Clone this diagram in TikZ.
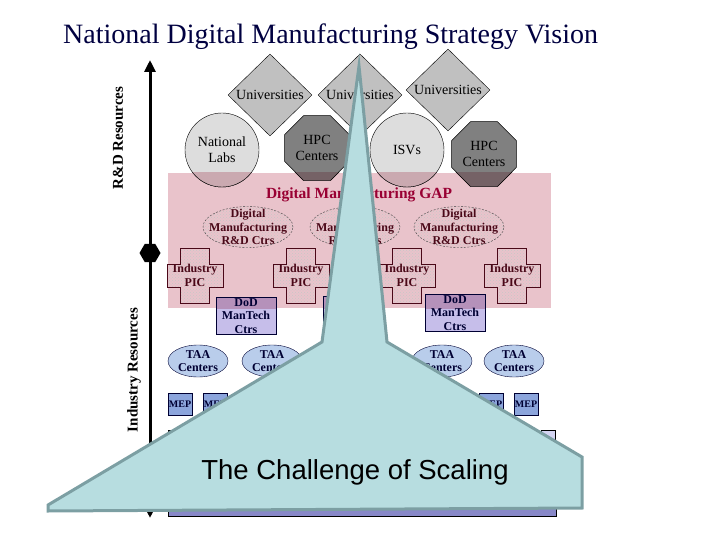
\documentclass[tikz,border=0pt]{standalone}
\usepackage{fontspec}
\setmainfont{Liberation Serif}
\newfontfamily\scalefont{Liberation Sans}
\usepackage{xcolor}
\usepackage{tikz}
\usetikzlibrary{shapes.geometric, arrows.meta, patterns}

\definecolor{titlenavy}{HTML}{000040}
\definecolor{unigray}{HTML}{C0C0C0}
\definecolor{labgray}{HTML}{DDDDDD}
\definecolor{labmix}{HTML}{CAA9B0}
\definecolor{hpcgray}{HTML}{808080}
\definecolor{hpcmix}{HTML}{756266}
\definecolor{gappink}{HTML}{E9C3CB}
\definecolor{gapred}{HTML}{990033}
\definecolor{darkmaroon}{HTML}{4A0818}
\definecolor{navy}{HTML}{000033}
\definecolor{dodlav}{HTML}{C6BEEA}
\definecolor{dodmix}{HTML}{B591BA}
\definecolor{taablue}{HTML}{B9CDEB}
\definecolor{mepblue}{HTML}{8CA5DC}
\definecolor{tierlav}{HTML}{D4D4F2}
\definecolor{tierblue}{HTML}{8888C8}
\definecolor{scaleteal}{HTML}{B7DDE0}
\definecolor{scaleedge}{HTML}{7C9FA3}

\begin{document}
\begin{tikzpicture}[x=1pt, y=-1pt,
    every node/.style={align=center, inner sep=0pt},
    lbl/.style={font=\fontsize{14}{16}\selectfont},
    blbl/.style={font=\bfseries\fontsize{12}{13.5}\selectfont},
    uni/.style={lbl, diamond, draw, fill=unigray, minimum width=84pt, minimum height=82pt},
    lab/.style={lbl, circle, draw, fill=labgray, minimum size=74pt},
    hpc/.style={lbl, regular polygon, regular polygon sides=8, draw, fill=hpcgray, minimum size=70pt},
    dmc/.style={ellipse, draw=black!75, dash pattern=on 2pt off 1.5pt, pattern=crosshatch dots, pattern color=black!22, minimum width=90pt, minimum height=41pt},
    dmtxt/.style={blbl, text=darkmaroon},
    crossline/.style={draw=darkmaroon, pattern=crosshatch dots, pattern color=black!22},
    dod/.style={draw=navy, fill=dodlav, minimum width=60pt, minimum height=37pt},
    taa/.style={ellipse, draw=navy, fill=taablue, minimum width=60pt, minimum height=32pt},
    bluetxt/.style={blbl, text=navy},
    mep/.style={font=\bfseries\fontsize{10}{11}\selectfont, draw=navy, fill=mepblue, minimum width=24pt, minimum height=22pt, text=navy},
    side/.style={rotate=90, font=\bfseries\fontsize{15}{17}\selectfont},
    axis/.style={line width=3pt, -{Triangle[width=11pt, length=12pt]}}]
\useasboundingbox (0,0) rectangle (720,540);

\fill[gappink] (168,173) rectangle (551,308);

\node[uni] (u1) at (270,95) {Universities};
\node[uni] (u2) at (360,95) {Universities};
\node[uni] (u3) at (448,90) {Universities};
\node[lab] (nl)  at (222,150) {National\\Labs};
\node[lab] (isv) at (407,150) {ISVs};
\node[hpc] (hpc1) at (317,148) {HPC\\Centers};
\node[hpc] (hpc2) at (484,154) {HPC\\Centers};

\foreach \n/\x/\y in {1/246/316, 2/353/315, 3/455/313}
  \node[dod] (dod\n) at (\x,\y) {};

% the GAP band darkens what lies under it
\begin{scope}
  \clip (168,173) rectangle (551,308);
  \filldraw[fill=labmix] (nl.center) circle[radius=37pt] (isv.center) circle[radius=37pt];
  \foreach \h in {hpc1, hpc2}
    \filldraw[fill=hpcmix] (\h.corner 1) -- (\h.corner 2) -- (\h.corner 3) -- (\h.corner 4)
      -- (\h.corner 5) -- (\h.corner 6) -- (\h.corner 7) -- (\h.corner 8) -- cycle;
  \foreach \n in {1,2,3}
    \filldraw[draw=navy, fill=dodmix] (dod\n.south west) rectangle (dod\n.north east);
\end{scope}

\foreach \n in {1,2,3}
  \node[bluetxt] (dodt\n) at (dod\n) {DoD\\ManTech\\Ctrs};

\node[text=gapred, font=\bfseries\fontsize{15.5}{18}\selectfont] (gap) at (359,195) {Digital Manufacturing GAP};

\foreach \n/\x in {1/248, 2/355, 3/459}
  \node[dmc, label={[dmtxt]center:Digital\\Manufacturing\\R\&D Ctrs}] (dm\n) at (\x,227) {};

\foreach \n/\x in {1/195, 2/301, 3/407, 4/512} {
  \path[crossline] (\x-14.5,248) -| (\x+14.5,264) -| (\x+28,287) -| (\x+14.5,303)
      -| (\x-14.5,287) -| (\x-28,264) -| (\x-14.5,248) -- cycle;
  \node[dmtxt] (pic\n) at (\x,275.5) {Industry\\PIC};
}

\foreach \n/\x in {1/198, 2/272, 3/442, 4/514}
  \node[taa, label={[bluetxt]center:TAA\\Centers}] (taa\n) at (\x,361) {};

\foreach \n/\x in {1/180, 2/215, 3/491, 4/526}
  \node[mep] (mep\n) at (\x,404) {MEP};

\node[draw, fill=tierlav, minimum width=14pt, minimum height=30pt, anchor=north west] (co1) at (168,430) {};
\node[draw, fill=tierlav, minimum width=14pt, minimum height=30pt, anchor=north west] (co2) at (541,430) {};
\node[draw, fill=tierblue, minimum width=388pt, minimum height=20pt, anchor=south west] (base) at (168,516) {};

\node[regular polygon, regular polygon sides=6, fill=black, minimum size=21pt] (hub) at (150,253) {};
\coordinate (axtop) at (150,60);
\coordinate (axbot) at (150,518);
\draw[axis] (hub) -- (axtop);
\draw[axis] (hub) -- (axbot);
\node[side] (rd)  at (118,138) {R\&D Resources};
\node[side] (ind) at (134,370) {Industry Resources};

\draw[scaleedge, line width=3pt, fill=scaleteal] (48,505) -- (322,342) -- (359,66) -- (387,342)
    -- (582,457) -- (582,508) -- (48,511) -- cycle;
\node[font=\scalefont\fontsize{27.5}{30}\selectfont] (scaling) at (355,472) {The Challenge of Scaling};

\node[anchor=base west, text=titlenavy, font=\fontsize{28}{32}\selectfont] (title) at (63,44)
    {National Digital Manufacturing Strategy Vision};
\end{tikzpicture}
\end{document}
